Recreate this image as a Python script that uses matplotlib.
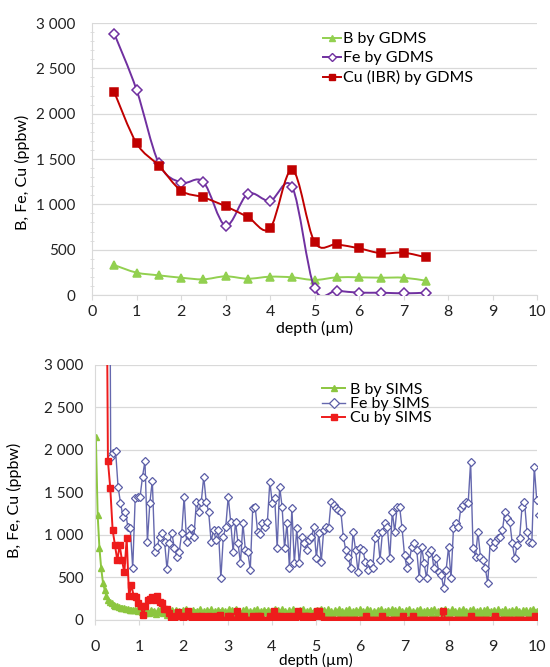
import numpy as np
import matplotlib
matplotlib.use("Agg")
import matplotlib.pyplot as plt
from matplotlib.path import Path
from matplotlib.patches import PathPatch
from matplotlib.lines import Line2D
from matplotlib.ticker import FuncFormatter, MultipleLocator

plt.rcParams['font.family'] = ['Lato', 'DejaVu Sans']

# ---- datos GDMS (panel superior) ----
prof_gdms = [0.5, 1.0, 1.5, 2.0, 2.5, 3.0, 3.5, 4.0, 4.5, 5.0, 5.5, 6.0, 6.5, 7.0, 7.5]
b_gdms = [330, 247, 217, 191, 173, 206, 180, 202, 195, 166, 195, 195, 191, 191, 158]
fe_gdms = [2882, 2264, 1454, 1240, 1248, 766, 1115, 1038, 1189, 74, 48, 26, 26, 18, 26]
cu_gdms = [2238, 1675, 1428, 1152, 1078, 979, 861, 736, 1380, 585, 559, 515, 460, 467, 416]

# ---- datos SIMS (panel inferior) ----
b_sims = [
    2150, 1240, 850, 610, 440, 350, 280, 240, 215, 195, 180, 170, 160, 152, 145, 140, 136, 130, 126, 122, 120, 116, 112, 115, 108,
    118, 92, 124, 86, 110, 78, 120, 95, 104, 72, 116, 88, 126, 80, 108, 64, 118, 96, 112, 70, 122, 84, 100, 60, 114,
    90, 128, 74, 106, 58, 120, 98, 110, 66, 124, 82, 102, 56, 118, 94, 130, 76, 108, 62, 116, 88, 122, 70, 104, 52,
    126, 92, 112, 68, 134, 80, 106, 60, 118, 96, 124, 74, 100, 54, 120, 86, 128, 72, 110, 58, 116, 90, 122, 66, 108,
    50, 124, 84, 114, 70, 130, 94, 104, 62, 118, 78, 126, 88, 100, 56, 120, 92, 132, 68, 110, 60, 122, 86, 106, 74,
    118, 58, 128, 90, 112, 66, 124, 80, 102, 54, 116, 96, 130, 72, 108, 62, 120, 84, 126, 70, 104, 56, 114, 92, 124,
    68, 110, 60, 132, 86, 116, 74, 106, 52, 122, 94, 128, 78, 100, 64, 118, 88, 124, 58, 112, 80, 130, 70, 104, 56,
    120, 90, 126, 66, 108, 76, 116, 60, 134, 84, 104, 54, 122, 96, 112, 72, 128, 62, 106, 88, 118, 58, 124, 80, 110,
    64, 126, 92, 102, 56, 120, 86, 130, 70, 108, 60, 116, 94, 124, 74, 104, 52, 122, 82, 112, 68, 128, 90, 106, 62,
    118, 78, 124, 96, 110, 58, 126, 84, 104, 66, 120, 92, 130, 72, 108, 54, 116, 88, 122, 64, 112, 80, 126, 98, 110,
]
prof_b_sims = np.linspace(0.02, 10.0, len(b_sims))

fe_sims = [
    9000,
    1922, 1961, 1992, 1569, 1380, 1216, 1275, 1098, 1078, 608,
    1431, 1451, 1451, 1686, 1871, 922, 1380, 1639, 804, 863,
    980, 1020, 922, 596, 902, 1020, 843, 745, 804, 1020,
    1451, 922, 1000, 1078, 980, 1392, 1275, 1392, 1686, 1392,
    1275, 922, 1059, 941, 1059, 490, 980, 1098, 1451, 1157,
    804, 1157, 902, 667, 1137, 824, 804, 588, 1314, 1333,
    1039, 1012, 1137, 1098, 1157, 1627, 1373, 1431, 843,
    1569, 1333, 843, 1137, 608, 1314, 667, 1078, 667, 980,
    902, 824, 941, 980, 1098, 725, 1020, 686, 1059, 1098,
    1078, 1392, 1353, 1314, 1294, 1275, 980, 824, 745, 608,
    1039, 824, 569, 843, 824, 686, 588, 667, 608, 961,
    1020, 706, 1039, 1137, 1098, 725, 1275, 1039, 1333, 1333,
    1078, 765, 608, 706, 863, 902, 824, 490, 863, 667,
    490, 784, 824, 608, 725, 569, 529, 373, 588, 863,
    490, 1078, 1137, 1098, 1314, 1353, 1392, 1373, 1863, 843,
    745, 1039, 745, 706, 608, 431, 922, 863, 922, 961,
    980, 1059, 1275, 1196, 1157, 902, 725, 882, 961, 1333,
    1392, 1039, 922, 902, 1804, 1412, 1235,
]
prof_fe_sims = np.linspace(0.30, 10.05, len(fe_sims))

cu_sims = [
    6000, 1870, 1550, 1060, 880, 700, 880, 700, 560, 960, 280, 410, 280, 275,
    200, 160, 60, 160, 240, 245, 275, 235, 280, 215, 195, 125, 135, 80,
    40, 0, 50, 90, 50, 0, 50, 100, 50, 0, 0, 50, 0, 50, 0, 0, 50, 0, 0, 50, 0, 60,
    0, 0, 50, 50, 0, 0, 100, 50, 0, 50, 0, 0, 0, 50, 0, 50, 50, 0, 0, 0,
    50, 0, 100, 50, 0, 50, 0, 0, 50, 0, 50, 0, 100, 50, 0, 50, 50, 0, 0, 50, 100, 100, 50, 0,
    0, 0, 0, 0, 0, 0, 0, 0, 0, 0, 0, 0, 0, 0, 0, 0, 0, 50, 0, 0,
    0, 0, 0, 0, 50, 0, 0, 0, 0, 0, 0, 0, 0, 50, 0, 0, 0, 50, 0, 0,
    0, 0, 0, 0, 0, 0, 0, 0, 0, 0, 100, 0, 0, 0, 0, 0, 0, 0, 0, 0,
    0, 0, 50, 0, 0, 0, 0, 0, 0, 0, 0, 0, 50, 0, 0, 0, 0, 0, 0, 0,
    0, 0, 0, 0, 0, 0, 0, 0, 0, 50, 40,
]
prof_cu_sims = np.linspace(0.24, 10.0, len(cu_sims))

ticks_x = list(range(0, 11))
ticks_y = [0, 500, 1000, 1500, 2000, 2500, 3000]

GRIS = '#D9D9D9'
fmt_miles = FuncFormatter(lambda v, p: f"{int(v):,}".replace(",", " "))


def curva_suave(x, y):
    # curva tipo Excel "smoothed line" (Catmull-Rom en Bezier)
    x = np.asarray(x, float)
    y = np.asarray(y, float)
    n = len(x)
    verts = [(x[0], y[0])]
    codes = [Path.MOVETO]
    for i in range(n - 1):
        xa, ya = (x[i - 1], y[i - 1]) if i > 0 else (x[i], y[i])
        xb, yb = (x[i + 2], y[i + 2]) if i + 2 < n else (x[i + 1], y[i + 1])
        c1 = (x[i] + (x[i + 1] - xa) / 6, y[i] + (y[i + 1] - ya) / 6)
        c2 = (x[i + 1] - (xb - x[i]) / 6, y[i + 1] - (yb - y[i]) / 6)
        verts += [c1, c2, (x[i + 1], y[i + 1])]
        codes += [Path.CURVE4] * 3
    return Path(verts, codes)


def estilo_ejes(ax, pad_x):
    ax.set_xlim(0, 10)
    ax.set_ylim(0, 3000)
    ax.set_xticks(ticks_x)
    ax.set_yticks(ticks_y)
    ax.yaxis.set_major_formatter(fmt_miles)
    ax.grid(axis='y', color=GRIS, lw=0.9)
    ax.set_axisbelow(True)
    for s in ['top', 'right']:
        ax.spines[s].set_visible(False)
    ax.spines['left'].set_color(GRIS)
    ax.spines['bottom'].set_color(GRIS)
    ax.tick_params(axis='y', length=0, labelsize=11, labelcolor='#222222')
    ax.tick_params(axis='x', length=3.5, color=GRIS, pad=pad_x, labelsize=11.5, labelcolor='#222222')


fig = plt.figure(figsize=(5.5, 6.67), dpi=100)

# ---------------- panel superior ----------------
ax1 = fig.add_axes([0.1673, 0.5577, 0.8091, 0.4078])
estilo_ejes(ax1, 4)
ax1.tick_params(axis='y', pad=12)
ax1.yaxis.set_minor_locator(MultipleLocator(100))
ax1.tick_params(axis='y', which='minor', length=3, direction='inout', color=GRIS)

series_sup = [
    (b_gdms, '#92D050', '^', '#92D050', 'B by GDMS'),
    (fe_gdms, '#7030A0', 'D', 'white', 'Fe by GDMS'),
    (cu_gdms, '#C00000', 's', '#C00000', 'Cu (IBR) by GDMS'),
]
handles = []
for k, (vals, col, mk, cara, lab) in enumerate(series_sup):
    ax1.add_patch(PathPatch(curva_suave(prof_gdms, vals), facecolor='none',
                            edgecolor=col, lw=1.4, zorder=2 + 2 * k))
    ms = 4.8 if mk == 'D' else 5.3
    ax1.plot(prof_gdms, vals, ls='none', marker=mk, ms=ms, mfc=cara, mec=col,
             mew=1.1, zorder=3 + 2 * k)
    handles.append(Line2D([], [], color=col, lw=1.4, marker=mk, ms=ms - 0.6,
                          mfc=cara, mec=col, mew=1.0, label=lab))
ax1.legend(handles=handles, loc='upper left', bbox_to_anchor=(0.505, 0.99),
           frameon=False, fontsize=11.5, handlelength=1.1, handletextpad=0.15,
           labelspacing=0.3, borderaxespad=0)
ax1.set_xlabel('depth (µm)', fontsize=11.5, labelpad=1)
ax1.set_ylabel('B, Fe, Cu (ppbw)', fontsize=11.5)
ax1.yaxis.set_label_coords(-0.14, 0.45)

# ---------------- panel inferior ----------------
ax2 = fig.add_axes([0.1727, 0.0705, 0.8036, 0.3823])
estilo_ejes(ax2, 11)
ax2.tick_params(axis='y', pad=8)

ax2.plot(prof_b_sims, b_sims, color='#8CC63F', lw=1.4, marker='^', ms=4.5,
         mfc='#8CC63F', mec='#8CC63F', zorder=2, label='B by SIMS')
ax2.plot(prof_fe_sims, fe_sims, color='#6568AE', lw=1.0, marker='D', ms=4.2,
         mfc='white', mec='#5B5EA6', mew=0.9, zorder=3, label='Fe by SIMS')
ax2.plot(prof_cu_sims, cu_sims, color='#EE1C1C', lw=1.4, marker='s', ms=4.2,
         mfc='#EE1C1C', mec='#EE1C1C', zorder=4, label='Cu by SIMS')
ax2.legend(loc='upper left', bbox_to_anchor=(0.5, 0.955), frameon=False,
           fontsize=11.5, handlelength=1.4, handletextpad=0.3, labelspacing=0.0,
           borderaxespad=0, markerscale=1.1)
ax2.set_xlabel('depth (µm)', fontsize=11, labelpad=-1)
ax2.set_ylabel('B, Fe, Cu (ppbw)', fontsize=11.5)
ax2.yaxis.set_label_coords(-0.165, 0.47)

fig.savefig('out.png', dpi=100)
